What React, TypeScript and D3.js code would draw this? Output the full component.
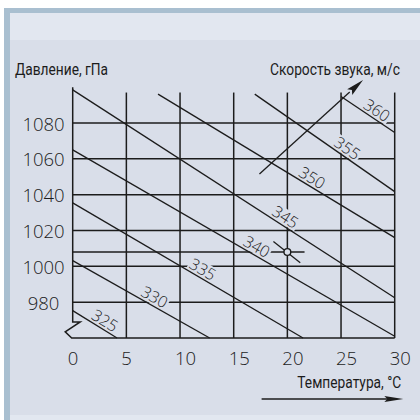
import React from 'react';
import * as d3 from 'd3';

// ---- data ----
const tempTicks = [0, 5, 10, 15, 20, 25, 30];
const pressureTicks = [980, 1000, 1020, 1040, 1060, 1080];
const speeds = [325, 330, 335, 340, 345, 350, 355, 360];
const isoStartT = [0, 0, 0, 0, 0, 7.95, 16.96, 25.0];
const isoStartP = [975.3, 1003.2, 1035.4, 1065.0, 1098.5, 1096.1, 1096.1, 1094.8];
const isoEndT = [4.13, 12.76, 21.46, 30, 30, 30, 30, 30];
const isoEndP = [960, 960, 960, 961, 982.5, 1016, 1041.7, 1074.7];
const isoLabelT = [2.58, 7.24, 11.72, 16.75, 19.38, 21.9, 25.13, 27.9];
const exampleT = [20];
const exampleP = [1008];
const exampleLineEndT = [21.6];
const exampleIsoT = [18.7, 21.2];
const exampleIsoP = [1013.9, 1002.0];
const speedArrowT = [17.4, 27.05];
const speedArrowP = [1051.5, 1104];
const tempArrowT = [17.6, 30.8];

const yAxisLabel = 'Давление, гПа';
const speedLabel = 'Скорость звука, м/с';
const xAxisLabel = 'Температура, °C';

export default function App() {
  const W = 420;
  const H = 420;
  const x = d3.scaleLinear().domain([0, 30]).range([72.7, 394.7]);
  const y = d3.scaleLinear().domain([960, 1080]).range([338, 123]);
  const ink = '#1c1c1c';
  const bg = '#d9dee9';
  const light = '#e2e7f0';
  const border = '#a9bfd0';
  const numFont = '"Open Sans", Roboto, "Liberation Sans", sans-serif';
  const titleFont = 'Roboto, "Liberation Sans", sans-serif';

  const gridTop = y(1097);
  const axisTop = y(1100);
  const yBottom = y(960);

  const labels = speeds.map((s, i) => {
    const x0 = x(isoStartT[i]);
    const y0 = y(isoStartP[i]);
    const x1 = x(isoEndT[i]);
    const y1 = y(isoEndP[i]);
    const len = Math.hypot(x1 - x0, y1 - y0);
    const ux = (x1 - x0) / len;
    const uy = (y1 - y0) / len;
    const f = (isoLabelT[i] - isoStartT[i]) / (isoEndT[i] - isoStartT[i]);
    const px = x0 + f * (x1 - x0);
    const py = y0 + f * (y1 - y0);
    const d = 8.5;
    return {
      s,
      x0, y0, x1, y1,
      cx: px + d * uy,
      cy: py - d * ux,
      angle: (Math.atan2(y1 - y0, x1 - x0) * 180) / Math.PI,
    };
  });

  // speed arrow
  const ax0 = x(speedArrowT[0]);
  const ay0 = y(speedArrowP[0]);
  const ax1 = x(speedArrowT[1]);
  const ay1 = y(speedArrowP[1]);
  const aLen = Math.hypot(ax1 - ax0, ay1 - ay0);
  const aux = (ax1 - ax0) / aLen;
  const auy = (ay1 - ay0) / aLen;
  const headL = 18;
  const headW = 3.8;
  const bx = ax1 - aux * headL;
  const by = ay1 - auy * headL;
  const speedHead = `M${ax1},${ay1} L${bx - auy * headW},${by + aux * headW} L${bx + aux * 3},${by + auy * 3} L${bx + auy * headW},${by - aux * headW} Z`;

  // temperature arrow
  const tY = yBottom + 61;
  const tx0 = x(tempArrowT[0]);
  const tx1 = x(tempArrowT[1]);
  const tempHead = `M${tx1},${tY} L${tx1 - 19},${tY - 3} L${tx1 - 16},${tY} L${tx1 - 19},${tY + 3} Z`;

  const x0px = x(0);
  const breakY = y(969);
  const breakPath = `M${x0px},${axisTop} L${x0px},${breakY} L${x0px + 7.5},${breakY} L${x0px - 7.5},${breakY + 10} L${x0px - 1},${yBottom} L${x(30)},${yBottom}`;

  return (
    <svg
      width={W}
      height={H}
      viewBox={`0 0 ${W} ${H}`}
      style={{ position: 'absolute', left: 0, top: 0, display: 'block' }}
    >
      <rect x={0} y={0} width={W} height={H} fill="#ffffff" />
      <rect x={4} y={8} width={416} height={412} fill={border} />
      <rect x={10} y={13} width={410} height={27} fill={light} />
      <rect x={10} y={40} width={410} height={375} fill={bg} />
      <rect x={10} y={415} width={410} height={5} fill={light} />

      {/* horizontal grid */}
      {pressureTicks.map((p) => (
        <line key={'h' + p} x1={x(0)} x2={x(30)} y1={y(p)} y2={y(p)} stroke={ink} strokeWidth={1.5} />
      ))}
      {/* example horizontal line */}
      <line x1={x(0)} x2={x(exampleLineEndT[0])} y1={y(exampleP[0])} y2={y(exampleP[0])} stroke={ink} strokeWidth={1.5} />
      {/* vertical grid */}
      {tempTicks.filter((t) => t > 0).map((t) => (
        <line key={'v' + t} x1={x(t)} x2={x(t)} y1={gridTop} y2={yBottom} stroke={ink} strokeWidth={1.5} />
      ))}
      {/* axis with break */}
      <path d={breakPath} fill="none" stroke={ink} strokeWidth={1.5} />

      {/* label knockouts */}
      {labels.map((l) => (
        <rect
          key={'k' + l.s}
          x={-15}
          y={-7.5}
          width={30}
          height={15}
          fill={bg}
          transform={`translate(${l.cx},${l.cy}) rotate(${l.angle})`}
        />
      ))}

      {/* isolines */}
      {labels.map((l) => (
        <line key={'iso' + l.s} x1={l.x0} y1={l.y0} x2={l.x1} y2={l.y1} stroke={ink} strokeWidth={1.3} />
      ))}

      {/* example point */}
      <line
        x1={x(exampleIsoT[0])}
        y1={y(exampleIsoP[0])}
        x2={x(exampleIsoT[1])}
        y2={y(exampleIsoP[1])}
        stroke={ink}
        strokeWidth={1.3}
      />
      <circle cx={x(exampleT[0])} cy={y(exampleP[0])} r={3.4} fill={bg} stroke={ink} strokeWidth={1.4} />

      {/* speed arrow */}
      <line x1={ax0} y1={ay0} x2={bx} y2={by} stroke={ink} strokeWidth={1.3} />
      <path d={speedHead} fill={ink} />

      {/* temperature arrow */}
      <line x1={tx0} y1={tY} x2={tx1 - 15} y2={tY} stroke={ink} strokeWidth={1.3} />
      <path d={tempHead} fill={ink} />

      {/* isoline labels */}
      {labels.map((l) => (
        <text
          key={'t' + l.s}
          transform={`translate(${l.cx},${l.cy}) rotate(${l.angle})`}
          textAnchor="middle"
          dy={5.7}
          fontFamily={numFont}
          fontWeight={300}
          fontSize={16}
          fill={ink}
        >
          {l.s}
        </text>
      ))}

      {/* y tick labels */}
      {pressureTicks.map((p) => (
        <text
          key={'yl' + p}
          x={43.5}
          y={y(p) + 7.5}
          textAnchor="middle"
          fontFamily={numFont}
          fontWeight={300}
          fontSize={18.5}
          fill={ink}
        >
          {p}
        </text>
      ))}
      {/* x tick labels */}
      {tempTicks.map((t) => (
        <text
          key={'xl' + t}
          x={x(t) - 5}
          y={yBottom + 27}
          textAnchor="start"
          fontFamily={numFont}
          fontWeight={300}
          fontSize={18.5}
          fill={ink}
        >
          {t}
        </text>
      ))}

      {/* titles */}
      <text x={15} y={75} fontFamily={titleFont} fontSize={16} fill={ink} textLength={93} lengthAdjust="spacingAndGlyphs">
        {yAxisLabel}
      </text>
      <text x={270} y={75} fontFamily={titleFont} fontSize={16} fill={ink} textLength={130} lengthAdjust="spacingAndGlyphs">
        {speedLabel}
      </text>
      <text x={297.3} y={387.5} fontFamily={titleFont} fontSize={16} fill={ink} textLength={104} lengthAdjust="spacingAndGlyphs">
        {xAxisLabel}
      </text>
    </svg>
  );
}
